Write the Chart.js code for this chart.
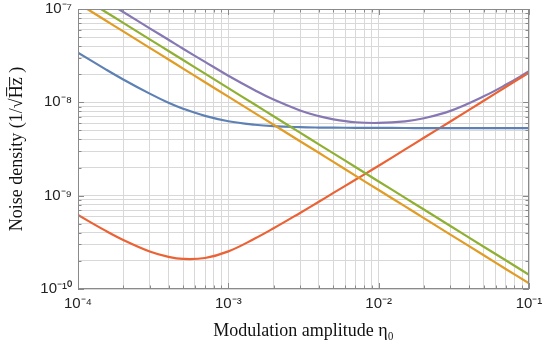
<!DOCTYPE html>
<html lang="en">
<head>
    <meta charset="UTF-8">
    <title>Noise density vs modulation amplitude</title>
    <script src="https://cdn.jsdelivr.net/npm/chart.js@4.4.0/dist/chart.umd.min.js"></script>
    <style>
        html, body { margin: 0; padding: 0; background: #fff; }
        #wrap { width: 545px; height: 346px; }
    </style>
</head>
<body>
    <div id="wrap">
        <canvas id="myChart" width="545" height="346"></canvas>
    </div>

    <script>
        // modulation amplitude eta_0 (x)
        var eta = [1e-4, 1.5e-4, 2e-4, 3e-4, 4e-4, 5e-4, 7e-4, 1e-3, 1.5e-3, 2e-3, 3e-3,
                   4e-3, 5e-3, 7e-3, 1e-2, 1.5e-2, 2e-2, 3e-2, 5e-2, 7e-2, 1e-1];

        // noise densities (1/sqrt(Hz))
        var blueNoise = [3.4e-8, 2.3e-8, 1.76e-8, 1.24e-8, 9.9e-9, 8.55e-9, 7.15e-9, 6.27e-9, 5.75e-9, 5.55e-9, 5.42e-9,
                         5.37e-9, 5.35e-9, 5.33e-9, 5.32e-9, 5.31e-9, 5.3e-9, 5.3e-9, 5.3e-9, 5.3e-9, 5.3e-9];
        var orangeNoise = [1.15e-7, 7.67e-8, 5.75e-8, 3.83e-8, 2.88e-8, 2.3e-8, 1.64e-8, 1.15e-8, 7.67e-9, 5.75e-9, 3.83e-9,
                           2.88e-9, 2.3e-9, 1.64e-9, 1.15e-9, 7.67e-10, 5.75e-10, 3.83e-10, 2.3e-10, 1.64e-10, 1.15e-10];
        var greenNoise = [1.42e-7, 9.47e-8, 7.1e-8, 4.73e-8, 3.55e-8, 2.84e-8, 2.03e-8, 1.42e-8, 9.47e-9, 7.1e-9, 4.73e-9,
                          3.55e-9, 2.84e-9, 2.03e-9, 1.42e-9, 9.47e-10, 7.1e-10, 4.73e-10, 2.84e-10, 2.03e-10, 1.42e-10];
        var purpleNoise = [1.86e-7, 1.24e-7, 9.3e-8, 6.21e-8, 4.68e-8, 3.75e-8, 2.71e-8, 1.93e-8, 1.35e-8, 1.07e-8, 8.18e-9,
                           7.11e-9, 6.57e-9, 6.12e-9, 6.01e-9, 6.26e-9, 6.76e-9, 8.1e-9, 1.16e-8, 1.54e-8, 2.15e-8];
        var redNoise = [6.2e-10, 4.27e-10, 3.35e-10, 2.52e-10, 2.21e-10, 2.1e-10, 2.15e-10, 2.53e-10, 3.47e-10, 4.47e-10, 6.53e-10,
                        8.6e-10, 1.07e-9, 1.48e-9, 2.09e-9, 3.13e-9, 4.17e-9, 6.24e-9, 1.04e-8, 1.46e-8, 2.08e-8];

        // axis decades and their labels
        var xDecades = [-4, -3, -2, -1];
        var xTickLabels = ['10\u207B\u2074', '10\u207B\u00B3', '10\u207B\u00B2', '10\u207B\u00B9'];
        var yDecades = [-10, -9, -8, -7];
        var yTickLabels = ['10\u207B\u00B9\u2070', '10\u207B\u2079', '10\u207B\u2078', '10\u207B\u2077'];

        function pts(ys) {
            return eta.map(function (x, i) { return { x: x, y: ys[i] }; });
        }

        function logTicks(decades) {
            var out = [];
            for (var i = 0; i < decades.length - 1; i++) {
                for (var m = 1; m < 10; m++) {
                    out.push({ value: Number((m * Math.pow(10, decades[i])).toPrecision(3)) });
                }
            }
            out.push({ value: Math.pow(10, decades[decades.length - 1]) });
            return out;
        }

        function decadeIndex(value, decades) {
            var l = Math.log10(value);
            if (Math.abs(l - Math.round(l)) > 1e-6) return -1;
            return decades.indexOf(Math.round(l));
        }

        // box frame with inward ticks on all four sides
        var framePlugin = {
            id: 'frame',
            afterDraw: function (chart) {
                var ctx = chart.ctx, a = chart.chartArea;
                var sx = chart.scales.x, sy = chart.scales.y;
                ctx.save();
                ctx.strokeStyle = '#8a8a8a';
                ctx.lineWidth = 1;
                ctx.strokeRect(a.left + 0.5, a.top + 0.5, a.right - a.left - 1, a.bottom - a.top - 1);
                ctx.beginPath();
                sx.ticks.forEach(function (t) {
                    var px = Math.round(sx.getPixelForValue(t.value)) + 0.5;
                    var len = decadeIndex(t.value, xDecades) >= 0 ? 6 : 3.5;
                    ctx.moveTo(px, a.bottom); ctx.lineTo(px, a.bottom - len);
                    ctx.moveTo(px, a.top); ctx.lineTo(px, a.top + len);
                });
                sy.ticks.forEach(function (t) {
                    var py = Math.round(sy.getPixelForValue(t.value)) + 0.5;
                    var len = decadeIndex(t.value, yDecades) >= 0 ? 6 : 3.5;
                    ctx.moveTo(a.left, py); ctx.lineTo(a.left + len, py);
                    ctx.moveTo(a.right, py); ctx.lineTo(a.right - len, py);
                });
                ctx.stroke();
                ctx.restore();
            }
        };

        function series(data, color) {
            return {
                data: pts(data),
                borderColor: color,
                borderWidth: 2.2,
                pointRadius: 0,
                fill: false,
                tension: 0.4
            };
        }

        var ctx = document.getElementById('myChart').getContext('2d');
        var myChart = new Chart(ctx, {
            type: 'line',
            data: {
                datasets: [
                    series(orangeNoise, '#E19C24'),
                    series(greenNoise, '#8FB032'),
                    series(blueNoise, '#5E81B5'),
                    series(redNoise, '#EB6235'),
                    series(purpleNoise, '#8778B3')
                ]
            },
            plugins: [framePlugin],
            options: {
                responsive: false,
                animation: false,
                layout: { padding: { left: 0, right: 16, top: 9, bottom: 0 } },
                plugins: { legend: { display: false }, tooltip: { enabled: false } },
                scales: {
                    x: {
                        type: 'logarithmic',
                        min: 1e-4,
                        max: 1e-1,
                        afterBuildTicks: function (scale) { scale.ticks = logTicks(xDecades); },
                        afterFit: function (scale) {
                            scale.height = 57;
                            scale.paddingLeft = 0;
                            scale.paddingRight = 0;
                        },
                        grid: { color: '#d8d8d8', lineWidth: 1, drawTicks: false },
                        border: { display: false },
                        ticks: {
                            autoSkip: false,
                            maxRotation: 0,
                            padding: 6,
                            color: '#222',
                            font: { family: 'Liberation Sans, Arial, sans-serif', size: 15 },
                            callback: function (value) {
                                var i = decadeIndex(value, xDecades);
                                return i >= 0 ? xTickLabels[i] : '';
                            }
                        },
                        title: {
                            display: true,
                            text: 'Modulation amplitude \u03B7\u2080',
                            color: '#111',
                            font: { family: 'Liberation Serif, Times New Roman, serif', size: 18 },
                            padding: { top: 0, bottom: 4 }
                        }
                    },
                    y: {
                        type: 'logarithmic',
                        min: 1e-10,
                        max: 1e-7,
                        afterBuildTicks: function (scale) { scale.ticks = logTicks(yDecades); },
                        afterFit: function (scale) {
                            scale.width = 78;
                            scale.paddingTop = 0;
                            scale.paddingBottom = 0;
                        },
                        grid: { color: '#d8d8d8', lineWidth: 1, drawTicks: false },
                        border: { display: false },
                        ticks: {
                            autoSkip: false,
                            padding: 6,
                            color: '#222',
                            font: { family: 'Liberation Sans, Arial, sans-serif', size: 15 },
                            callback: function (value) {
                                var i = decadeIndex(value, yDecades);
                                return i >= 0 ? yTickLabels[i] : '';
                            }
                        },
                        title: {
                            display: true,
                            text: 'Noise density (1/\u221AH\u0305z\u0305 )',
                            color: '#111',
                            font: { family: 'Liberation Serif, Times New Roman, serif', size: 18 },
                            padding: { top: 6, bottom: 0 }
                        }
                    }
                }
            }
        });
    </script>
</body>
</html>
